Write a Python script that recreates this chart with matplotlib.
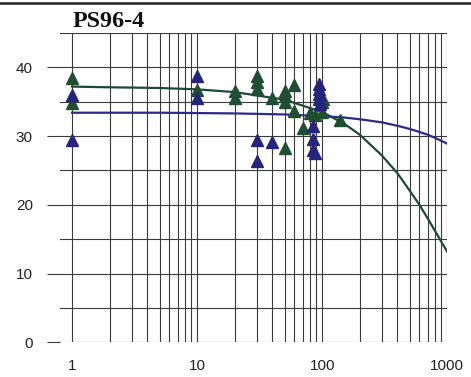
import matplotlib
matplotlib.use('Agg')
import matplotlib.pyplot as plt
from matplotlib.lines import Line2D
from matplotlib.ticker import FixedLocator, NullFormatter, FixedFormatter

# scatter points
green_x = [1, 1, 10, 20, 20, 30, 30, 30, 40, 50, 50, 50, 50, 60, 60, 70, 80, 88, 100, 100, 101, 140]
green_y = [38.4, 34.8, 36.7, 36.5, 35.6, 38.8, 37.8, 36.8, 35.6, 36.6, 35.8, 35.0, 28.3, 37.4, 33.7, 31.2,
           33.3, 33.0, 34.9, 33.5, 35.4, 32.4]
navy_x = [1, 1, 10, 10, 30, 30, 40, 85, 85, 85, 88, 95, 95, 95, 95, 97]
navy_y = [36.0, 29.5, 38.8, 35.6, 29.5, 26.4, 29.2, 31.5, 29.6, 28.0, 27.5, 37.6, 36.8, 36.1, 35.4, 34.6]

# fitted curves, read at these x positions
curve_x = [1, 2, 5, 10, 20, 50, 100, 150, 200, 300, 400, 500, 600, 700, 800, 900, 1000]
green_curve = [37.2, 37.1, 37.0, 36.8, 36.4, 35.3, 33.5, 31.8, 30.2, 27.2, 24.6, 22.1, 20.0, 18.0, 16.2, 14.6, 13.2]
navy_curve = [33.4, 33.4, 33.4, 33.35, 33.3, 33.15, 32.9, 32.7, 32.45, 32.0, 31.5, 31.05, 30.6, 30.2, 29.75, 29.3, 28.9]

y_major = [0, 10, 20, 30, 40]
y_minor = [5, 15, 25, 35, 45]
x_major = [1, 10, 100, 1000]
x_labels = ['1', '10', '100', '1000']

GRID = '#3a3a3a'
GREEN = '#1f4e30'
NAVY = '#25257e'

fig = plt.figure(figsize=(4.71, 3.77), dpi=100)
ax = fig.add_axes([0.1274, 0.092, 0.822, 0.8205])

ax.plot(curve_x, green_curve, color='#1c4a38', lw=1.6, zorder=3)
ax.plot(curve_x, navy_curve, color='#2b2b8c', lw=1.6, zorder=3)
ax.plot(green_x, green_y, '^', color=GREEN, ms=8.5, mec=GREEN, zorder=4)
ax.plot(navy_x, navy_y, '^', color=NAVY, ms=8.5, mec=NAVY, zorder=4)

ax.set_xscale('log')
ax.set_xlim(0.8, 1000)
ax.set_ylim(0, 45)

ax.xaxis.set_major_locator(FixedLocator(x_major))
ax.xaxis.set_major_formatter(FixedFormatter(x_labels))
minors = [m * d for d in [1, 10, 100] for m in range(2, 10)]
ax.xaxis.set_minor_locator(FixedLocator(minors))
ax.xaxis.set_minor_formatter(NullFormatter())
ax.yaxis.set_major_locator(FixedLocator(y_major))
ax.yaxis.set_minor_locator(FixedLocator(y_minor))

ax.grid(True, which='both', color=GRID, lw=0.8)
ax.set_axisbelow(True)
for s in ax.spines.values():
    s.set_visible(False)

ax.tick_params(axis='x', which='both', length=0, pad=12, labelsize=11, labelcolor='#222222')
ax.tick_params(axis='y', which='major', length=9.5, width=0.8, color=GRID, pad=10,
               labelsize=11, labelcolor='#222222')
ax.tick_params(axis='y', which='minor', length=0)
for lab in ax.get_xticklabels() + ax.get_yticklabels():
    lab.set_family('Liberation Sans')

fig.text(72.7 / 471, 1 - 26.7 / 377, 'PS96-4', ha='left', va='baseline',
         fontsize=17.4, fontweight='bold', family='Liberation Serif', color='#111111')

# scanned page border at the top
fig.add_artist(Line2D([0, 1], [1 - 2.5 / 377] * 2, color='#222222', lw=1.8))

plt.savefig('out.png', dpi=100)
